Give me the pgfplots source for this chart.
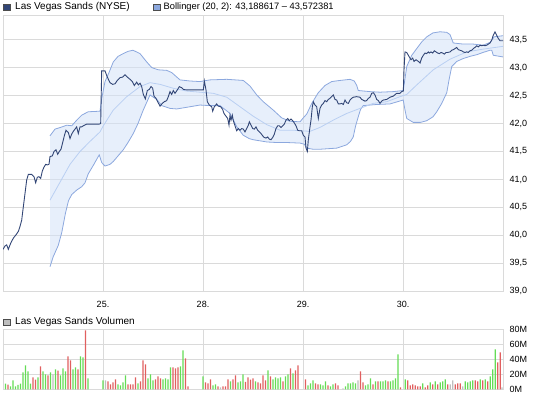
\documentclass[border=0pt]{standalone}
\usepackage{fontspec}
\setmainfont{Liberation Sans}
\usepackage{pgfplots}
\pgfplotsset{compat=1.18}
\usepgfplotslibrary{fillbetween}
\definecolor{navy}{RGB}{50,70,118}
\definecolor{bandline}{RGB}{140,168,222}
\definecolor{bandmid}{RGB}{185,207,242}
\definecolor{bandfill}{RGB}{212,226,248}
\definecolor{gridgray}{RGB}{218,218,218}
\definecolor{volgreen}{RGB}{100,220,85}
\definecolor{volred}{RGB}{225,95,95}
\definecolor{volgray}{RGB}{190,190,190}
\pgfplotsset{
  chartbase/.style={
    scale only axis, width=500pt,
    xmin=0, xmax=200,
    axis line style={draw=gridgray, line width=0.8pt},
    grid=major, major grid style={draw=gridgray, line width=0.8pt},
    xtick={40,80,120,160},
    yticklabel pos=right,
    major tick length=0pt,
    tick label style={font=\fontsize{9}{10}\selectfont, text=black},
  }
}
\begin{document}
\begin{tikzpicture}
\path (0pt,0pt) rectangle (545pt,-398pt);
% ---------------- price panel ----------------
\begin{axis}[chartbase,
  at={(3pt,-15pt)}, anchor=north west,
  height=276.3pt,
  ymin=39, ymax=43.94,
  xticklabels={25.,28.,29.,30.},
  ytick={39,39.5,40,40.5,41,41.5,42,42.5,43,43.5},
  yticklabels={{39,0},{39,5},{40,0},{40,5},{41,0},{41,5},{42,0},{42,5},{43,0},{43,5}},
  yticklabel style={anchor=west, xshift=3pt},
  xticklabel style={yshift=-6pt},
]
\addplot[name path=upper, draw=bandline, line width=0.8pt] coordinates {
(18.8,41.78)(20.8,41.90)(23,41.93)(25.5,41.97)(27.5,41.96)(29.5,42.06)(31.5,42.15)(34.1,42.21)(38.8,42.22)
(39.5,42.45)(40.8,42.75)(42.5,42.92)(44.1,43.10)(46,43.20)(48.1,43.25)(50,43.29)(52,43.31)(54.8,43.25)
(57.5,43.10)(59.5,43.00)(62.1,42.96)(65.5,42.95)(67.5,42.91)(70.8,42.78)(74.8,42.76)(78.8,42.75)(82.8,42.78)
(89.5,42.79)(96.1,42.77)(98.8,42.67)(101.5,42.51)(104.1,42.39)(108.1,42.24)(111.5,42.10)(114.8,42.04)
(118.8,42.03)(120.1,42.10)(121.5,42.17)(123.5,42.36)(126.1,42.55)(128.8,42.68)(131.5,42.75)(134.8,42.77)
(138.8,42.79)(140.5,42.76)(141.5,42.68)(142.1,42.59)(146.8,42.57)(150.8,42.56)(156.1,42.57)(160.1,42.59)
(161.5,43.02)(163.5,43.22)(165.5,43.34)(167.5,43.46)(169.5,43.55)(172,43.62)(174.8,43.64)(177.5,43.63)
(178.8,43.59)(180.1,43.44)(184.1,43.42)(188.1,43.42)(192.1,43.40)(194.8,43.45)(196.5,43.55)(200,43.57)
};
\addplot[name path=lower, draw=bandline, line width=0.8pt] coordinates {
(18.8,39.44)(20.1,39.62)(22.1,39.82)(23.5,40.05)(25,40.40)(26.2,40.62)(27.5,40.73)(29.5,40.81)(31.5,40.87)
(32.8,40.94)(34.1,41.10)(36.1,41.25)(38.5,41.44)(39.5,41.30)(40.8,41.24)(42.8,41.27)(44.1,41.32)(46,41.42)
(48.1,41.53)(50,41.66)(52.1,41.82)(54,42.00)(56.1,42.24)(58.8,42.51)(61.5,42.43)(63.5,42.32)(66.8,42.27)
(69.5,42.26)(73.5,42.29)(78.8,42.33)(82.8,42.32)(86.8,42.32)(90.8,42.18)(93.5,41.94)(96.1,41.79)(98.5,41.73)
(100.1,41.71)(105.5,41.67)(109.5,41.66)(113.5,41.66)(118.8,41.65)(120.5,41.63)(121.5,41.56)(124,41.54)
(126.8,41.54)(133.5,41.56)(137.5,41.62)(139,41.68)(140.1,41.76)(141,41.95)(142.1,42.12)(143,42.25)
(144.1,42.32)(149.5,42.34)(154.8,42.35)(160.1,42.42)(160.8,42.24)(161.5,42.09)(164.1,42.02)(167,42.02)
(169.5,42.05)(172,42.12)(173.5,42.21)(175.5,42.36)(177.5,42.55)(178.5,42.80)(179.5,43.02)(181.5,43.11)
(184,43.16)(186.8,43.20)(189.5,43.23)(192,43.27)(194.8,43.31)(195.5,43.31)(196.1,43.22)(200,43.19)
};
\addplot[fill=bandfill, fill opacity=0.55, draw=none] fill between[of=upper and lower];
\addplot[draw=bandmid, line width=0.8pt] coordinates {
(18.8,40.63)(22.8,40.95)(26.8,41.27)(30.8,41.50)(34.8,41.68)(38.8,41.85)(40,41.95)(44.1,42.24)(49.5,42.48)
(54.8,42.66)(58.8,42.73)(62.8,42.70)(68.1,42.63)(73.5,42.58)(78.8,42.56)(84.1,42.54)(89.5,42.47)(94.8,42.30)
(100.1,42.13)(105.5,41.98)(110.8,41.88)(116.1,41.88)(122.8,41.86)(126.8,41.93)(132.1,42.06)(137.5,42.18)
(142.8,42.27)(148.1,42.36)(153.5,42.39)(158.8,42.48)(161.5,42.52)(165.5,42.69)(172.1,42.96)(178.8,43.15)
(185.5,43.28)(192.1,43.33)(200,43.38)
};
\addplot[draw=navy, line width=0.9pt] coordinates {
(0,39.75)(0.8,39.81)(1.47,39.83)(2.13,39.75)(3.07,39.86)(4.13,39.95)(5.2,40.01)(6.13,40.07)(6.8,40.16)
(7.47,40.27)(8.13,40.51)(8.8,40.75)(9.47,40.99)(10.13,41.09)(11.47,41.09)(12.4,41.05)(13.07,40.94)
(13.73,41.04)(14.4,41.05)(15.07,41.02)(15.73,41.15)(16.4,41.22)(17.07,41.27)(17.73,41.26)(18.4,41.27)
(18.8,41.41)(19.73,41.42)(20.4,41.50)(21.2,41.53)(21.87,41.45)(22.53,41.50)(23.2,41.54)(23.87,41.66)
(24.53,41.78)(25.2,41.88)(26.13,41.84)(26.8,41.73)(27.47,41.81)(28.13,41.86)(28.8,41.90)(29.47,41.94)
(30.13,41.82)(30.8,41.94)(31.47,41.94)(32.13,41.96)(33.47,41.99)(38.53,41.99)(39.07,42.00)(39.47,42.94)
(40.8,42.94)(41.73,42.83)(42.8,42.73)(43.87,42.70)(44.8,42.71)(45.73,42.77)(46.8,42.82)(47.87,42.83)
(48.8,42.87)(49.73,42.83)(50.8,42.79)(51.73,42.75)(52.53,42.68)(53.47,42.74)(54.13,42.69)(54.8,42.72)
(55.47,42.66)(56.13,42.52)(56.93,42.44)(57.73,42.59)(58.53,42.61)(59.2,42.66)(59.87,42.63)(60.4,42.49)
(61.2,42.45)(61.87,42.39)(62.8,42.31)(63.73,42.36)(64.53,42.39)(65.47,42.41)(66.13,42.48)(66.8,42.57)
(67.47,42.52)(68.13,42.59)(68.8,42.54)(69.73,42.60)(70.53,42.66)(71.47,42.64)(72.13,42.61)(73.47,42.60)
(80.13,42.60)(80.53,42.76)(81.2,42.60)(81.73,42.39)(82.53,42.33)(83.47,42.30)(83.87,42.22)(84.53,42.30)
(85.47,42.35)(86.13,42.31)(87.07,42.30)(87.87,42.25)(88.4,42.18)(89.2,42.13)(89.87,42.09)(90.4,41.97)
(90.8,42.15)(91.2,42.06)(91.73,42.15)(92.13,42.05)(92.8,41.96)(93.47,41.87)(94.13,41.91)(94.8,41.88)
(95.47,41.91)(96.13,41.90)(96.8,41.85)(97.47,41.91)(98.13,41.97)(98.53,42.03)(99.2,41.97)(99.87,41.91)
(100.53,41.90)(101.2,41.94)(101.87,41.88)(102.53,41.85)(103.2,41.82)(103.87,41.78)(104.53,41.75)
(105.2,41.74)(105.87,41.76)(106.53,41.72)(107.2,41.71)(107.87,41.75)(108.53,41.81)(109.2,41.91)
(109.87,41.96)(110.53,41.96)(111.2,41.93)(111.87,41.96)(112.53,41.99)(113.2,42.06)(113.87,42.09)
(114.53,42.05)(115.2,42.08)(115.87,42.05)(116.53,42.01)(117.2,41.96)(117.87,41.88)(118.53,41.87)
(119.47,41.87)(120.13,41.79)(120.8,41.76)(121.2,41.56)(121.73,41.50)(122.13,41.71)(122.8,41.94)
(123.2,42.06)(123.73,42.30)(124.13,42.39)(124.8,42.33)(125.47,42.30)(126.13,42.09)(126.8,42.27)
(127.47,42.33)(128.13,42.36)(128.8,42.41)(129.47,42.39)(130.13,42.43)(130.8,42.45)(131.47,42.48)
(132.13,42.51)(132.8,42.43)(133.47,42.42)(134.13,42.35)(134.8,42.35)(135.47,42.36)(136.13,42.34)
(136.8,42.42)(137.47,42.37)(138.13,42.36)(138.8,42.42)(139.47,42.45)(140.13,42.47)(141.47,42.48)
(142.8,42.47)(143.47,42.43)(144.8,42.40)(145.47,42.41)(146.13,42.45)(146.8,42.47)(147.47,42.54)
(148.13,42.55)(148.8,42.51)(149.47,42.43)(150.13,42.41)(150.8,42.36)(151.47,42.40)(152.13,42.42)
(153.47,42.43)(154.8,42.47)(156.13,42.49)(157.47,42.54)(158.8,42.54)(159.47,42.57)(160.13,42.58)
(160.4,42.96)(160.8,43.28)(161.47,43.27)(162.53,43.19)(163.2,43.14)(163.87,43.17)(164.4,43.11)
(165.2,43.14)(166.13,43.11)(166.8,43.08)(167.47,43.17)(168.13,43.22)(168.8,43.26)(169.47,43.25)
(170.13,43.28)(170.53,43.26)(171.2,43.28)(171.87,43.26)(172.53,43.30)(173.2,43.28)(173.87,43.26)
(174.53,43.25)(175.2,43.27)(175.87,43.26)(176.53,43.24)(177.2,43.27)(177.87,43.27)(178.8,43.28)
(179.47,43.31)(180.13,43.32)(180.8,43.34)(181.47,43.36)(182.13,43.32)(182.8,43.31)(183.47,43.30)
(184.13,43.28)(184.8,43.27)(185.47,43.28)(186.13,43.27)(186.8,43.30)(187.47,43.31)(188.13,43.34)
(188.8,43.36)(189.47,43.39)(190.13,43.37)(190.8,43.40)(191.47,43.39)(192.13,43.40)(192.8,43.39)
(193.47,43.40)(194.13,43.42)(194.8,43.44)(195.47,43.49)(196.13,43.58)(196.8,43.64)(197.47,43.58)
(198.13,43.52)(198.8,43.48)(200,43.48)
};
\end{axis}
% ---------------- volume panel ----------------
\begin{axis}[chartbase,
  at={(3pt,-329.3pt)}, anchor=north west,
  height=60pt,
  ymin=0, ymax=80,
  xticklabels={},
  ytick={0,20,40,60,80},
  yticklabels={0M,20M,40M,60M,80M},
  yticklabel style={anchor=west, xshift=3pt},
]
\addplot[ybar, bar width=1.1pt, bar shift=0pt, fill=volgreen, draw=none] coordinates {
(1,7.6)(3,4)(4,12)(5,4)(6,6)(7,7.6)(8,22.7)(9,32)(10,24)(11,7.6)(14,16)(16,24)(17,20)(19,22.7)(21,26.7)
(23,18.7)(24,28)(25,24)(28,26.7)(29,29.3)(31,44)(32,42.7)(34,14.7)
(40,12)(46,6.7)(47,5.3)(48,9.3)(49,18.7)(54,8)(58,14.7)(59,20)(60,12)(64,13.3)(65,14.7)(66,13.3)(67,29.3)
(71,30.7)(72,52)
(80,17.3)(84,5.3)(85,6.7)(91,10.7)(94,9.3)(95,10.7)(96,20)(101,10.7)(106,25.3)(108,13.3)(109,16)(110,14.7)
(111,16)(113,17.3)(114,20)(116,21.3)
(122,5.3)(123,8)(124,12)(127,6.7)(128,5.3)(129,10.7)(131,4)(132,6.7)(137,4)(138,8)(139,8)(140,9.3)(141,8)
(145,5.3)(146,6.7)(147,14.7)(149,10.7)(151,10.7)(152,10.7)(153,12)(155,10.7)(156,12)(157,14.7)(158,46.7)
(160.9,13.3)(167.9,8)(170.9,9.3)(172.9,10.7)(174.9,9.3)(175.9,10.7)(176.9,13.3)(184.9,10.7)(185.9,9.3)
(186.9,10.7)(187.9,12)(190.9,13.3)(192.9,13.3)(194.9,17.3)(195.9,26.7)(196.9,53.3)
};
\addplot[ybar, bar width=1.1pt, bar shift=0pt, fill=volred, draw=none] coordinates {
(2,6.2)(12,16)(13,13)(15,30.7)(18,18.7)(22,25)(26,44)(27,38.7)(30,26.7)(33,78.7)
(42,10.7)(43,6.7)(44,9.3)(45,13.3)(50,6.7)(51,6.7)(52,6.7)(53,16)(55,10.7)(56,38.7)(57,33.3)(61,13.3)
(62,17.3)(63,14.7)(68,29.3)(69,28)(70,29.3)(73,41.3)(74,4)
(81,9.3)(82,8)(83,13.3)(86,4)(88,4)(89,4)(90,13.3)(92,13.3)(93,18.7)(97,10)(98,16)(99,13)(100,14.7)
(102,9.3)(103,8)(104,18.7)(105,12)(107,17.3)(112,10.7)(115,28)(117,25.3)(118,32)
(121,13.3)(125,8)(126,6.7)(130,5.3)(133,8)(134,5.3)(143,24)(144,9.3)(148,6.7)(150,10.7)(154,10.7)(159,2.7)
(161.9,12)(162.9,5.3)(163.9,6.7)(164.9,5.3)(165.9,4)(166.9,4)(168.9,2.7)(169.9,5.3)(171.9,6.7)(173.9,6.7)
(177.9,6.7)(180.9,6.7)(181.9,8)(182.9,8)(188.9,12)(189.9,10.7)(191.9,12)(193.9,10.7)(197.9,36)(198.9,49.3)
};
\addplot[ybar, bar width=1.1pt, bar shift=0pt, fill=volgray, draw=none] coordinates {
(20,20)(41,12)(87,2.7)(136,1.3)(142,12)(178.9,6.7)(179.9,12)(183.9,4)(199.6,2.7)
};
\end{axis}
% ---------------- legends ----------------
\begin{scope}[font=\fontsize{10}{11}\selectfont]
\draw[fill=navy, draw=black!70, line width=0.7pt] (3.5pt,-4pt) rectangle (10pt,-10.5pt);
\node[anchor=west, inner sep=0pt] at (15pt,-7.3pt) {Las Vegas Sands (NYSE)};
\draw[fill=bandline, draw=black!70, line width=0.7pt] (153.5pt,-4pt) rectangle (160pt,-10.5pt);
\node[anchor=west, inner sep=0pt, font=\fontsize{9.3}{11}\selectfont] at (163.5pt,-7.3pt) {Bollinger (20, 2): 43,188617 -- 43,572381};
\draw[fill=volgray, draw=black!70, line width=0.7pt] (3.5pt,-319pt) rectangle (10pt,-325.5pt);
\node[anchor=west, inner sep=0pt] at (15pt,-322.3pt) {Las Vegas Sands Volumen};
\end{scope}
\end{tikzpicture}
\end{document}
